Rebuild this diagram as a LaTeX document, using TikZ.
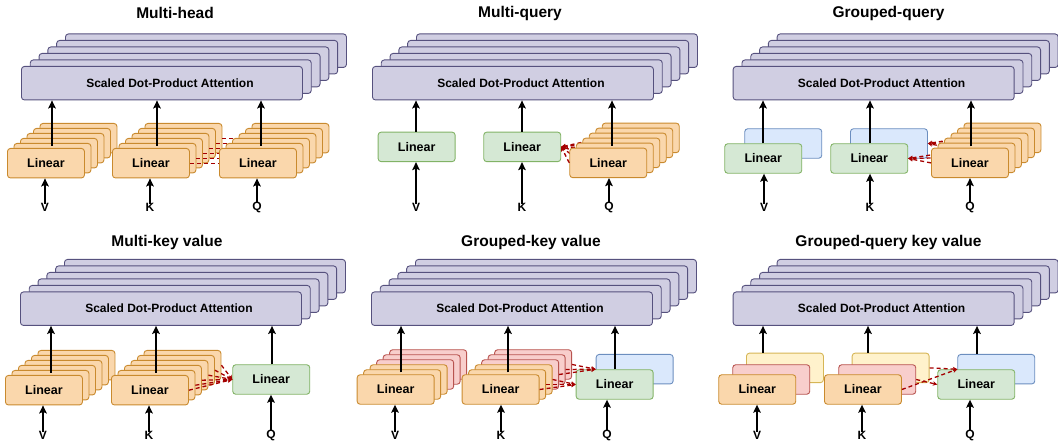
\documentclass[tikz,border=0pt]{standalone}
\usepackage{fontspec}
\setmainfont{Liberation Sans}
\usetikzlibrary{arrows.meta}
\definecolor{attF}{HTML}{D0CEE2}
\definecolor{attD}{HTML}{56517E}
\definecolor{orgF}{HTML}{FAD7AC}
\definecolor{orgD}{HTML}{C98A2E}
\definecolor{grnF}{HTML}{D5E8D4}
\definecolor{grnD}{HTML}{82B366}
\definecolor{bluF}{HTML}{DAE8FC}
\definecolor{bluD}{HTML}{6C8EBF}
\definecolor{pnkF}{HTML}{F8CECC}
\definecolor{pnkD}{HTML}{B85450}
\definecolor{yelF}{HTML}{FFF2CC}
\definecolor{yelD}{HTML}{D6B656}
\definecolor{linkR}{HTML}{A50000}
\tikzset{
  box/.style={draw, rounded corners=3bp, line width=0.9bp, anchor=north west, inner sep=0pt,
    font=\fontsize{12.5bp}{14bp}\selectfont\bfseries},
  att/.style={box, fill=attF, draw=attD, minimum width=281bp, minimum height=33.5bp,
    font=\fontsize{12bp}{14bp}\selectfont\bfseries},
  lin/.style={box, minimum width=77bp, minimum height=29.5bp},
  org/.style={lin, fill=orgF, draw=orgD},
  grn/.style={lin, fill=grnF, draw=grnD},
  blu/.style={lin, fill=bluF, draw=bluD},
  pnk/.style={lin, fill=pnkF, draw=pnkD},
  yel/.style={lin, fill=yelF, draw=yelD},
  flow/.style={-{Stealth[length=8bp,width=7.5bp,inset=1.5bp]}, line width=2bp, black},
  link/.style={dash pattern=on 4bp off 3bp, line width=1.3bp, draw=linkR},
  linka/.style={link, -{Stealth[length=4.5bp,width=4.5bp]}, linkR},
  ttl/.style={font=\fontsize{15.5bp}{18bp}\selectfont\bfseries, inner sep=0pt},
  inlab/.style={font=\fontsize{12bp}{14bp}\selectfont\bfseries, inner sep=0.5bp},
}
\begin{document}
\begin{tikzpicture}[x=1bp,y=-1bp]
\useasboundingbox (0,0) rectangle (1058,442);

% ---------- titles ----------
\node[ttl] (t1) at (175,13) {Multi-head};
\node[ttl] (t2) at (520,13) {Multi-query};
\node[ttl] (t3) at (888.5,13) {Grouped-query};
\node[ttl] (t4) at (167,242) {Multi-key value};
\node[ttl] (t5) at (531,242) {Grouped-key value};
\node[ttl] (t6) at (888.5,242) {Grouped-query key value};

% ---------- attention stacks ----------
\foreach \p/\x/\y in {1/21/66, 2/372/66, 3/732.7/66, 4/20/291.5, 5/371/291.5, 6/732.7/291.5}{
  \foreach \i in {5,4,...,1}{
    \node[att] (p\p a\i) at (\x+8.8*\i, \y-6.5*\i) {};
  }
  \node[att] (p\p a0) at (\x,\y) {\hspace*{16bp}Scaled Dot-Product Attention};
}

% ---------- panel 1: Multi-head ----------
\foreach \i in {5,4,...,0}{
  \node[org] (p1v\i) at (7+6.5*\i, 148-5*\i) {\ifnum\i=0 Linear\fi};
  \node[org] (p1k\i) at (112+6.5*\i, 148-5*\i) {\ifnum\i=0 Linear\fi};
  \node[org] (p1q\i) at (219+6.5*\i, 148-5*\i) {\ifnum\i=0 Linear\fi};
  \draw[link] (p1k\i.east) -- (p1q\i.west);
}
\coordinate (p1vo) at (52,146);
\coordinate (p1ko) at (157,146);
\coordinate (p1qo) at (261,146);
\node[inlab] (p1V) at (45,207.5) {V};
\node[inlab] (p1K) at (150,207.5) {K};
\node[inlab] (p1Q) at (257,207.5) {Q};

% ---------- panel 2: Multi-query ----------
\node[grn] (p2v) at (377.7,131.7) {Linear};
\node[grn] (p2k) at (483.3,131.7) {Linear};
\foreach \i in {5,4,...,0}{
  \node[org] (p2q\i) at (569.3+6.5*\i, 147.7-5*\i) {\ifnum\i=0 Linear\fi};
  \draw[linka] (p2q\i.west) -- (p2k.east);
}
\coordinate (p2vo) at (416,131.7);
\coordinate (p2ko) at (522,131.7);
\coordinate (p2qo) at (612,146);
\node[inlab] (p2V) at (416,207.5) {V};
\node[inlab] (p2K) at (522,207.5) {K};
\node[inlab] (p2Q) at (609,207.5) {Q};

% ---------- panel 3: Grouped-query ----------
\node[blu] (p3vb) at (744.3,128.3) {};
\node[grn] (p3vg) at (724.3,143.3) {Linear};
\node[blu] (p3kb) at (850,128.3) {};
\node[grn] (p3kg) at (830.3,143.3) {Linear};
\foreach \i in {5,4,3}{
  \node[org] (p3q\i) at (931+6.5*\i, 147.7-5*\i) {};
  \draw[linka] (p3q\i.west) -- (p3kb.east);
}
\foreach \i in {2,1,0}{
  \node[org] (p3q\i) at (931+6.5*\i, 147.7-5*\i) {\ifnum\i=0 Linear\fi};
  \draw[linka] (p3q\i.west) -- (p3kg.east);
}
\coordinate (p3vo) at (763,143.3);
\coordinate (p3ko) at (870,143.3);
\coordinate (p3qo) at (971,146.5);
\node[inlab] (p3V) at (764,207.5) {V};
\node[inlab] (p3K) at (870,207.5) {K};
\node[inlab] (p3Q) at (970,207.5) {Q};

% ---------- panel 4: Multi-key value ----------
\node[grn] (p4q) at (232.3,364.3) {Linear};
\foreach \i in {5,4,...,0}{
  \node[org] (p4v\i) at (5+6.5*\i, 375-5*\i) {\ifnum\i=0 Linear\fi};
  \node[org] (p4k\i) at (111+6.5*\i, 375-5*\i) {\ifnum\i=0 Linear\fi};
  \draw[linka] (p4k\i.east) -- (p4q.west);
}
\coordinate (p4vo) at (51,373);
\coordinate (p4ko) at (156,373);
\coordinate (p4qo) at (272,364.3);
\node[inlab] (p4V) at (43,435.5) {V};
\node[inlab] (p4K) at (149,435.5) {K};
\node[inlab] (p4Q) at (271,435.5) {Q};

% ---------- panel 5: Grouped-key value ----------
\node[blu] (p5qb) at (595.7,354) {};
\node[grn] (p5qg) at (575.7,369.3) {Linear};
\foreach \i in {5,4,3}{
  \node[pnk] (p5v\i) at (356.7+6.5*\i, 374.3-5*\i) {};
  \node[pnk] (p5k\i) at (461.7+6.5*\i, 374.3-5*\i) {};
  \draw[linka] (p5k\i.east) -- (p5qb.west);
}
\foreach \i in {2,1,0}{
  \node[org] (p5v\i) at (356.7+6.5*\i, 374.3-5*\i) {\ifnum\i=0 Linear\fi};
  \node[org] (p5k\i) at (461.7+6.5*\i, 374.3-5*\i) {\ifnum\i=0 Linear\fi};
  \draw[linka] (p5k\i.east) -- (p5qg.west);
}
\coordinate (p5vo) at (401,372.5);
\coordinate (p5ko) at (508,372.5);
\coordinate (p5qo) at (615,369.3);
\node[inlab] (p5V) at (395,435.5) {V};
\node[inlab] (p5K) at (501,435.5) {K};
\node[inlab] (p5Q) at (607,435.5) {Q};

% ---------- panel 6: Grouped-query key value ----------
\node[yel] (p6vy) at (746,352.7) {};
\node[pnk] (p6vp) at (732.3,364.3) {};
\node[org] (p6vo0) at (718.3,374.3) {Linear};
\node[yel] (p6ky) at (851.7,352.7) {};
\node[pnk] (p6kp) at (838.3,364.3) {};
\node[org] (p6ko0) at (824,374.3) {Linear};
\node[blu] (p6qb) at (957.3,354) {};
\node[grn] (p6qg) at (937.3,369.3) {Linear};
\draw[linka] (p6ky.east) -- (p6qb.west);
\draw[linka] (p6ko0.east) -- (p6qb.west);
\draw[linka] (p6kp.east) -- (p6qg.west);
\coordinate (p6vo) at (763,352.7);
\coordinate (p6ko) at (868,352.7);
\coordinate (p6qo) at (977,354);
\node[inlab] (p6V) at (757,435.5) {V};
\node[inlab] (p6K) at (862,435.5) {K};
\node[inlab] (p6Q) at (970,435.5) {Q};

% ---------- flow arrows ----------
% outputs to attention
\foreach \c/\a in {p1vo/p1a0, p1ko/p1a0, p1qo/p1a0, p2vo/p2a0, p2ko/p2a0, p2qo/p2a0,
                   p3vo/p3a0, p3ko/p3a0, p3qo/p3a0,
                   p4vo/p4a0, p4ko/p4a0, p4qo/p4a0, p5vo/p5a0, p5ko/p5a0, p5qo/p5a0,
                   p6vo/p6a0, p6ko/p6a0, p6qo/p6a0}{
  \draw[flow] (\c) -- (\c |- \a.south);
}
% inputs
\foreach \l/\b in {p1V/p1v0, p1K/p1k0, p1Q/p1q0, p2V/p2v, p2K/p2k, p2Q/p2q0,
                   p3V/p3vg, p3K/p3kg, p3Q/p3q0, p4V/p4v0, p4K/p4k0, p4Q/p4q,
                   p5V/p5v0, p5K/p5k0, p5Q/p5qg, p6V/p6vo0, p6K/p6ko0, p6Q/p6qg}{
  \draw[flow] ([yshift=-1bp]\l.north) -- (\l.north |- \b.south);
}
\end{tikzpicture}
\end{document}
